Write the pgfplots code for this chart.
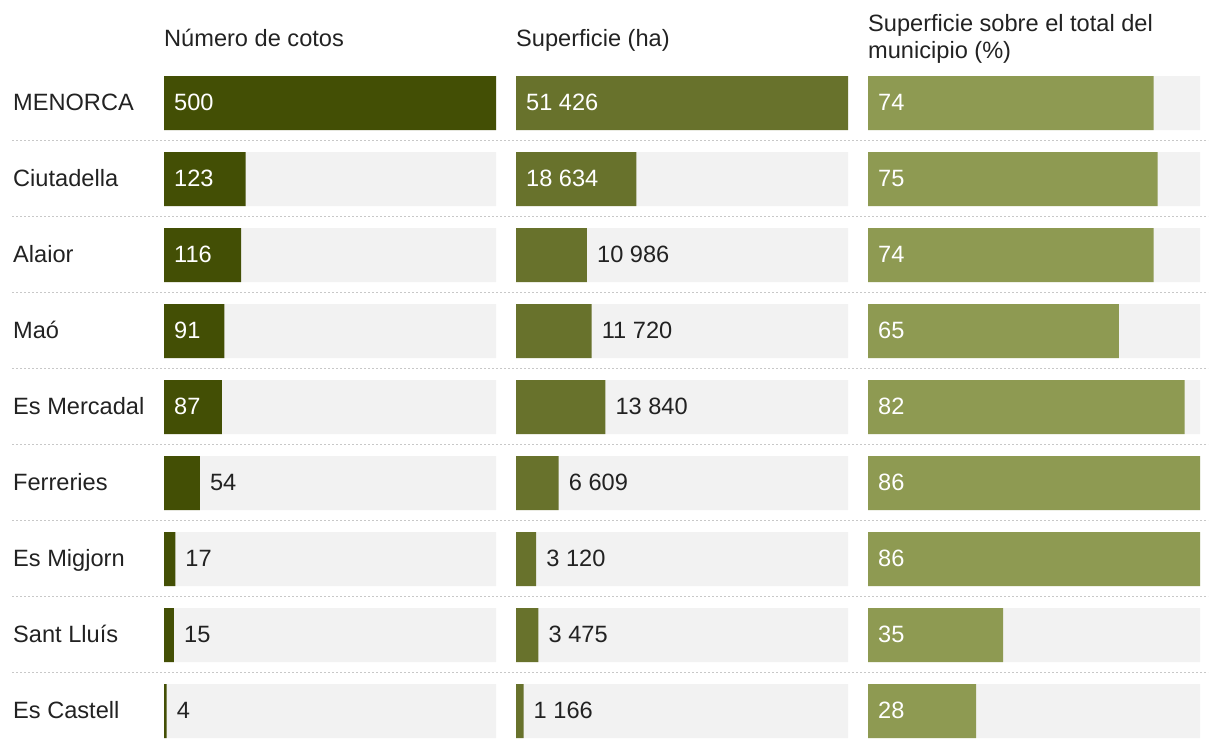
\documentclass[border=0pt]{standalone}
\usepackage{fontspec}
\setmainfont{Liberation Sans}
\usepackage{pgfplots}
\pgfplotsset{compat=1.18}
\definecolor{c1}{HTML}{434F05}
\definecolor{c2}{HTML}{68722C}
\definecolor{c3}{HTML}{8E9A52}
\definecolor{bg}{HTML}{F2F2F2}
\definecolor{txt}{HTML}{222222}
\definecolor{sep}{HTML}{C8C8C8}
\newcommand{\chartfont}{\fontsize{23.6bp}{27.5bp}\selectfont}
\pgfplotsset{
  panel/.style={scale only axis, width=332bp, height=684bp,
    ymin=-0.5, ymax=8.5, y dir=reverse, xmin=0,
    axis line style={draw=none}, tick style={draw=none},
    xtick=\empty, ytick=\empty, clip=false, anchor=north west,
    title style={at={(0,1)}, anchor=base west, yshift=13bp, inner sep=0pt,
      font=\chartfont, text=txt}},
  bgbar/.style={xbar, bar width=54bp, bar shift=0pt, fill=bg, draw=none},
  databar/.style={xbar, bar width=54bp, bar shift=0pt, draw=none, fill=#1},
  lab/.style={draw=none, mark=none, nodes near coords, point meta=explicit symbolic,
    nodes near coords align={anchor=base west},
    every node near coord/.append style={xshift=10bp, yshift=-7bp, inner sep=0pt,
      text=#1, font=\chartfont}},
}
\begin{document}
\begin{tikzpicture}
\useasboundingbox (0bp,0bp) rectangle (1220bp,748bp);
% separators
\foreach \k in {0,...,7} {
  \draw[sep, line width=1.6bp, dash pattern=on 1.6bp off 2.4bp]
    (12bp,{(607.5-76*\k)*1bp}) -- (1208bp,{(607.5-76*\k)*1bp});
}
% Panel 1
\begin{axis}[panel, at={(164bp,683bp)}, xmax=500,
  title={Número de cotos},
  ytick={0,...,8},
  yticklabels={MENORCA,Ciutadella,Alaior,Maó,Es Mercadal,Ferreries,Es Migjorn,Sant Lluís,Es Castell},
  yticklabel style={anchor=base west, xshift=-151bp, yshift=-7bp, inner sep=0pt, font=\chartfont, text=txt}]
\addplot[bgbar] coordinates {(500,0) (500,1) (500,2) (500,3) (500,4) (500,5) (500,6) (500,7) (500,8)};
\addplot[databar=c1] coordinates {(500,0) (123,1) (116,2) (91,3) (87,4) (54,5) (17,6) (15,7) (4,8)};
\addplot[lab=white] coordinates {(0,0) [500] (0,1) [123] (0,2) [116] (0,3) [91] (0,4) [87]};
\addplot[lab=txt] coordinates {(54,5) [54] (17,6) [17] (15,7) [15] (4,8) [4]};
\end{axis}
% Panel 2
\begin{axis}[panel, at={(516bp,683bp)}, xmax=51426,
  title={Superficie (ha)}]
\addplot[bgbar] coordinates {(51426,0) (51426,1) (51426,2) (51426,3) (51426,4) (51426,5) (51426,6) (51426,7) (51426,8)};
\addplot[databar=c2] coordinates {(51426,0) (18634,1) (10986,2) (11720,3) (13840,4) (6609,5) (3120,6) (3475,7) (1166,8)};
\addplot[lab=white] coordinates {(0,0) [51 426] (0,1) [18 634]};
\addplot[lab=txt] coordinates {(10986,2) [10 986] (11720,3) [11 720] (13840,4) [13 840] (6609,5) [6 609] (3120,6) [3 120] (3475,7) [3 475] (1166,8) [1 166]};
\end{axis}
% Panel 3
\begin{axis}[panel, at={(868bp,683bp)}, xmax=86,
  title={\vtop{\baselineskip=27.5bp\hbox{Superficie sobre el total del}\hbox{municipio (\%)}}},
  title style={yshift=15bp}]
\addplot[bgbar] coordinates {(86,0) (86,1) (86,2) (86,3) (86,4) (86,5) (86,6) (86,7) (86,8)};
\addplot[databar=c3] coordinates {(74,0) (75,1) (74,2) (65,3) (82,4) (86,5) (86,6) (35,7) (28,8)};
\addplot[lab=white] coordinates {(0,0) [74] (0,1) [75] (0,2) [74] (0,3) [65] (0,4) [82] (0,5) [86] (0,6) [86] (0,7) [35] (0,8) [28]};
\end{axis}
\end{tikzpicture}
\end{document}
